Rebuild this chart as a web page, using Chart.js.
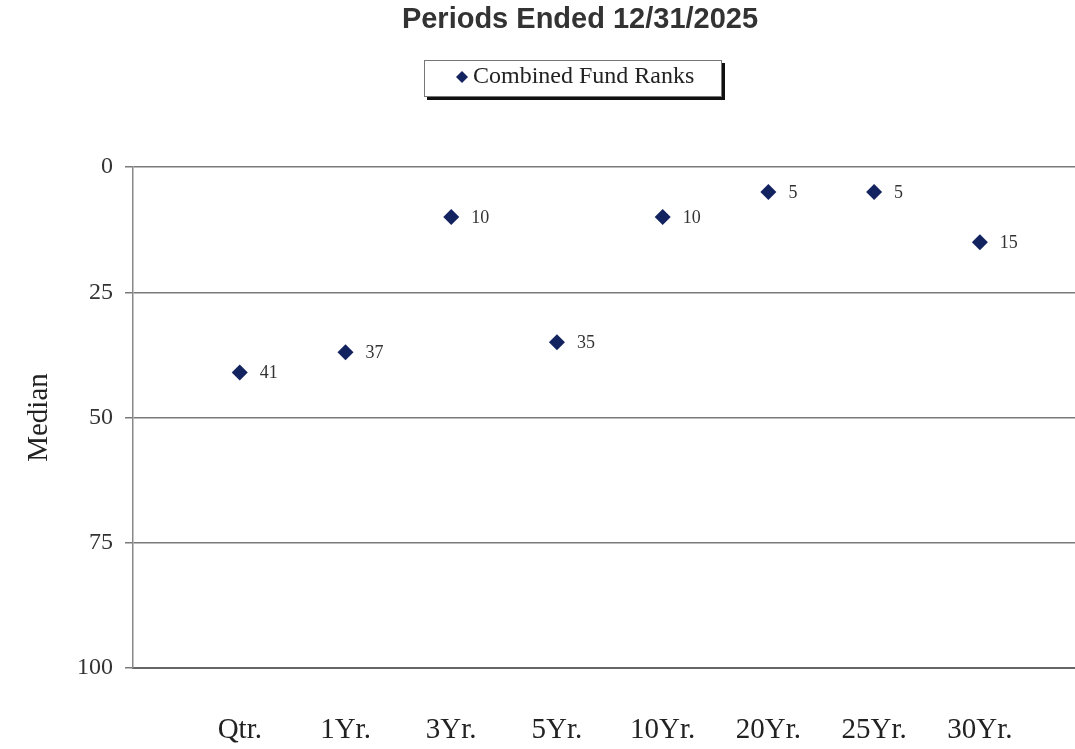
<!DOCTYPE html>
<html>
<head>
<meta charset="utf-8">
<script src="https://cdn.jsdelivr.net/npm/chart.js@4"></script>
<style>
  html, body { margin: 0; padding: 0; background: #fff; }
  #wrap { width: 1075px; height: 749px; }
</style>
</head>
<body>
<div id="wrap"><canvas id="rank_chart" width="1075" height="749"></canvas></div>
<script>
const ctx = document.querySelector('#rank_chart')

const periods = ["Qtr.", "1Yr.", "3Yr.", "5Yr.", "10Yr.", "20Yr.", "25Yr.", "30Yr."];
const ranks = [41, 37, 10, 35, 10, 5, 5, 15];
const yTicks = [0, 25, 50, 75, 100];
const titleText = 'Periods Ended 12/31/2025';
const seriesName = 'Combined Fund Ranks';
const axisTitle = 'Median';

const navy = '#13235f';
const serif = "'Liberation Serif', 'Times New Roman', serif";

// title + boxed legend drawn by hand (legend has a drop shadow in the original)
const header = {
    id: 'header',
    afterDraw(chart) {
        const c = chart.ctx;
        c.save();
        c.fillStyle = '#333';
        c.font = 'bold 29px "Liberation Sans", Arial, sans-serif';
        c.textAlign = 'center';
        c.textBaseline = 'middle';
        c.fillText(titleText, 580, 20);

        // legend box
        c.fillStyle = '#111';
        c.fillRect(427, 63, 298, 37);
        c.fillStyle = '#fff';
        c.fillRect(424, 60, 298, 37);
        c.strokeStyle = '#777';
        c.lineWidth = 1;
        c.strokeRect(424.5, 60.5, 297, 36);

        c.fillStyle = navy;
        c.beginPath();
        c.moveTo(462, 71);
        c.lineTo(468, 77);
        c.lineTo(462, 83);
        c.lineTo(456, 77);
        c.closePath();
        c.fill();

        c.fillStyle = '#222';
        c.font = '24px ' + serif;
        c.textAlign = 'left';
        c.fillText(seriesName, 473, 77);
        c.restore();
    }
}

// value labels to the right of each diamond
const pointLabels = {
    id: 'pointLabels',
    afterDatasetsDraw(chart) {
        const c = chart.ctx;
        const meta = chart.getDatasetMeta(0);
        c.save();
        c.fillStyle = '#333';
        c.font = '18px ' + serif;
        c.textAlign = 'left';
        c.textBaseline = 'middle';
        meta.data.forEach((pt, i) => {
            c.fillText(String(ranks[i]), pt.x + 20, pt.y + 1);
        });
        c.restore();
    }
}

const data = {
    datasets: [
        {
            label: seriesName,
            data: ranks.map((r, i) => ({ x: i, y: r })),
            showLine: false,
            pointStyle: 'rectRot',
            pointRadius: 8,
            pointHoverRadius: 8,
            backgroundColor: navy,
            borderColor: navy,
            borderWidth: 0
        }
    ]
};

const options = {
    responsive: false,
    animation: false,
    devicePixelRatio: 1,
    layout: {
        autoPadding: false,
        padding: { top: 167, right: 0, bottom: 0, left: 0 }
    },
    plugins: {
        legend: false,
        title: { display: false },
        tooltip: { enabled: false }
    },
    scales: {
        x: {
            type: 'linear',
            min: -1.01,
            max: 7.9,
            grid: {
                display: false,
                drawTicks: false
            },
            border: {
                display: true,
                color: '#666',
                width: 2
            },
            afterBuildTicks: scale => {
                scale.ticks = periods.map((p, i) => ({ value: i }));
            },
            ticks: {
                padding: 45,
                maxRotation: 0,
                autoSkip: false,
                color: '#222',
                font: { family: serif, size: 29 },
                callback: value => periods[value]
            },
            afterFit: scale => {
                scale.height = 81;
                scale.paddingLeft = 0;
                scale.paddingRight = 0;
            }
        },
        y: {
            reverse: true,
            min: 0,
            max: 100,
            afterBuildTicks: scale => {
                scale.ticks = yTicks.map(v => ({ value: v }));
            },
            grid: {
                color: '#7a7a7a',
                lineWidth: 1.5,
                tickLength: 8
            },
            border: {
                display: true,
                color: '#888',
                width: 1.5
            },
            ticks: {
                padding: 12,
                color: '#333',
                font: { family: serif, size: 24 }
            },
            title: {
                display: true,
                text: axisTitle,
                color: '#222',
                font: { family: serif, size: 29 },
                padding: { top: 22, bottom: 0 }
            },
            afterFit: scale => { scale.width = 133; }
        }
    }
}

new Chart(ctx, {
    type: 'scatter',
    data: data,
    options: options,
    plugins: [header, pointLabels]
})
</script>
</body>
</html>
